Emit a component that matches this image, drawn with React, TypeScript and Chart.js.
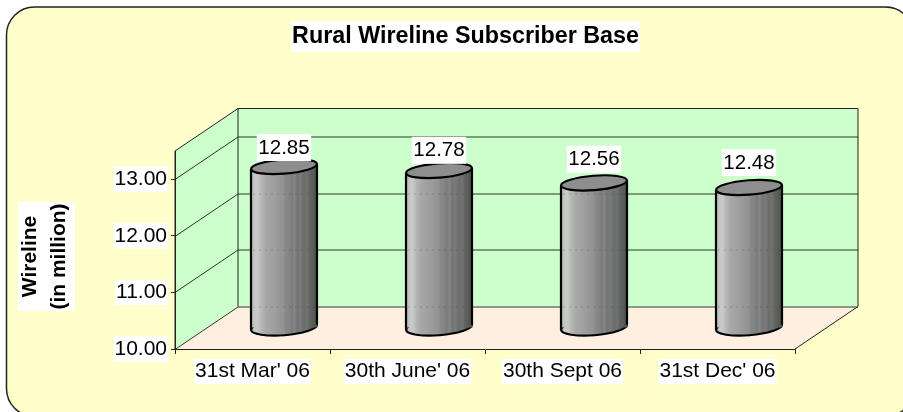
import React, { useEffect, useRef } from "react";
import { Chart, registerables } from "chart.js";

Chart.register(...registerables);

const categories = ["31st Mar' 06", "30th June' 06", "30th Sept 06", "31st Dec' 06"];
const wireline = [12.85, 12.78, 12.56, 12.48];
const yTicks = [10, 11, 12, 13];
const chartTitle = "Rural Wireline Subscriber Base";
const yTitle = ["Wireline", "(in million)"];

const FONT = "'Liberation Sans', Arial, sans-serif";
const TICK_SIZE = 21;
const VALUE_SIZE = 20.5;
const DX = 63;
const DY = -42.5;
const BAR_W = 66;
const EL_RY_TOP = 7.2;
const EL_RY_BOTTOM = 8;
const EL_ROT = (-4.5 * Math.PI) / 180;

const cylinderStops: [number, string][] = [
  [0, "#b0b4b0"], [0.05, "#c4c8c4"], [0.1, "#c8cac8"], [0.16, "#b4b6b4"], [0.22, "#a8a8a8"],
  [0.3, "#a2a2a2"], [0.38, "#9c9c9c"], [0.44, "#969696"], [0.5, "#929292"], [0.52, "#888888"],
  [0.58, "#828682"], [0.62, "#7a7a7a"], [0.66, "#868686"], [0.7, "#747474"], [0.75, "#7a7a7a"],
  [0.8, "#6a6e6a"], [0.85, "#727272"], [0.9, "#5e625e"], [0.95, "#585c58"], [1, "#484c48"],
];

function cylinderGradient(c: CanvasRenderingContext2D, x: number) {
  const g = c.createLinearGradient(x - BAR_W / 2, 0, x + BAR_W / 2, 0);
  cylinderStops.forEach(([o, col]) => g.addColorStop(o, col));
  return g;
}

const scene = {
  id: "scene",
  beforeDraw(chart: any) {
    const c: CanvasRenderingContext2D = chart.ctx;
    const { left, right, top, bottom } = chart.chartArea;
    c.save();
    c.beginPath();
    c.roundRect(6.5, 7, 907, 409.5, 28);
    c.fillStyle = "#FFFFCC";
    c.fill();
    c.lineWidth = 1.5;
    c.strokeStyle = "#222";
    c.stroke();

    // back wall
    c.fillStyle = "#CCFFCC";
    c.fillRect(left + DX, top + DY, right - left, bottom - top);
    // left wall
    c.beginPath();
    c.moveTo(left, top);
    c.lineTo(left + DX, top + DY);
    c.lineTo(left + DX, bottom + DY);
    c.lineTo(left, bottom);
    c.closePath();
    c.fill();
    // floor
    c.fillStyle = "#FFEFE0";
    c.beginPath();
    c.moveTo(left, bottom);
    c.lineTo(left + DX, bottom + DY);
    c.lineTo(right + DX, bottom + DY);
    c.lineTo(right, bottom);
    c.closePath();
    c.fill();

    c.strokeStyle = "#2a3a2a";
    c.lineWidth = 1;
    const y = chart.scales.y;
    for (const v of yTicks) {
      const py = Math.round(y.getPixelForValue(v)) + 0.5;
      c.beginPath();
      c.moveTo(left, py);
      c.lineTo(left + DX, py + DY);
      c.lineTo(right + DX, py + DY);
      c.stroke();
    }
    // wall outlines
    c.strokeStyle = "#222";
    c.beginPath();
    c.moveTo(left, bottom);
    c.lineTo(left, top);
    c.lineTo(left + DX, top + DY);
    c.lineTo(right + DX, top + DY);
    c.lineTo(right + DX, bottom + DY);
    c.lineTo(right, bottom);
    c.moveTo(left + DX, top + DY);
    c.lineTo(left + DX, bottom + DY);
    c.stroke();
    c.restore();
  },
  beforeDatasetsDraw(chart: any) {
    const c: CanvasRenderingContext2D = chart.ctx;
    c.save();
    c.translate(DX / 2, DY / 2);
    const meta = chart.getDatasetMeta(0);
    for (const bar of meta.data) {
      c.beginPath();
      c.ellipse(bar.x, bar.base, BAR_W / 2, EL_RY_BOTTOM, EL_ROT, 0, Math.PI * 2);
      c.fillStyle = cylinderGradient(c, bar.x);
      c.fill();
      c.lineWidth = 2.2;
      c.strokeStyle = "#000";
      c.stroke();
    }
  },
  afterDatasetsDraw(chart: any) {
    const c: CanvasRenderingContext2D = chart.ctx;
    const meta = chart.getDatasetMeta(0);
    const y = chart.scales.y;
    const dy = (BAR_W / 2) * Math.sin(EL_ROT);
    for (const bar of meta.data) {
      const l = bar.x - BAR_W / 2;
      const r = bar.x + BAR_W / 2;
      // the wall's grid lines show faintly through the cylinder
      c.save();
      c.setLineDash([2, 4]);
      c.lineWidth = 1;
      c.strokeStyle = "rgba(50,60,50,0.25)";
      for (const v of yTicks) {
        const py = Math.round(y.getPixelForValue(v)) + 0.5 + DY / 2;
        if (py > bar.y && py < bar.base) {
          c.beginPath();
          c.moveTo(l + 2, py);
          c.lineTo(r - 2, py);
          c.stroke();
        }
      }
      c.restore();
      c.lineWidth = 2.2;
      c.strokeStyle = "#000";
      c.beginPath();
      c.moveTo(l, bar.y - dy);
      c.lineTo(l, bar.base - dy);
      c.moveTo(r, bar.y + dy);
      c.lineTo(r, bar.base + dy);
      c.stroke();
      c.beginPath();
      c.ellipse(bar.x, bar.y, BAR_W / 2, EL_RY_TOP, EL_ROT, 0, Math.PI * 2);
      c.fillStyle = "#8E8E8E";
      c.fill();
      c.stroke();
    }
    c.restore();

    // value labels
    c.save();
    c.font = `${VALUE_SIZE}px ${FONT}`;
    c.textAlign = "center";
    c.textBaseline = "middle";
    meta.data.forEach((bar: any, i: number) => {
      const t = wireline[i].toFixed(2);
      const x = bar.x + DX / 2;
      const ymid = 147 + (wireline[0] - wireline[i]) * 40.5;
      const w = c.measureText(t).width + 3;
      c.fillStyle = "#fff";
      c.fillRect(x - w / 2, ymid - 13, w, 27);
      c.fillStyle = "#000";
      c.fillText(t, x, ymid + 1);
    });
    c.restore();
  },
};

export default function App() {
  const ref = useRef<HTMLCanvasElement | null>(null);
  useEffect(() => {
    document.body.style.margin = "0";
    const chart = new Chart(ref.current!, {
      type: "bar",
      data: {
        labels: categories,
        datasets: [
          {
            data: wireline,
            base: 10,
            clip: false,
            barThickness: BAR_W,
            borderWidth: 0,
            backgroundColor: (ctx: any) => {
              const ch = ctx.chart;
              if (!ch.chartArea || ctx.dataIndex === undefined) return "#999";
              return cylinderGradient(ch.ctx, ch.scales.x.getPixelForValue(ctx.dataIndex));
            },
          },
        ],
      },
      options: {
        animation: false,
        responsive: false,
        layout: { padding: { left: 0, right: 108, top: 151, bottom: 0 } },
        plugins: {
          legend: { display: false },
          tooltip: { enabled: false },
          title: { display: false },
        },
        scales: {
          x: {
            afterFit(s: any) {
              s.height = 63;
            },
            grid: { drawOnChartArea: false, tickLength: 5, color: "#222", offset: true },
            border: { color: "#222" },
            ticks: {
              color: "#000",
              font: { family: FONT, size: TICK_SIZE },
              maxRotation: 0,
              autoSkip: false,
              padding: 5,
              showLabelBackdrop: true,
              backdropColor: "#fff",
              backdropPadding: { x: 1, y: 0 },
            } as any,
          },
          y: {
            min: 10,
            max: 13.5,
            afterFit(s: any) {
              s.width = 175;
            },
            afterBuildTicks(s: any) {
              s.ticks = yTicks.map((v) => ({ value: v }));
            },
            grid: { drawOnChartArea: false, tickLength: 4, color: "#222" },
            border: { color: "#222" },
            title: { display: false },
            ticks: {
              color: "#000",
              font: { family: FONT, size: TICK_SIZE },
              padding: 4,
              callback: (v: any) => Number(v).toFixed(2),
              showLabelBackdrop: true,
              backdropColor: "#fff",
              backdropPadding: { x: 1, y: 0 },
            } as any,
          },
        },
      },
      plugins: [
        scene as any,
        {
          id: "texts",
          afterDraw(chart: any) {
            const c: CanvasRenderingContext2D = chart.ctx;
            c.save();
            c.fillStyle = "#fff";
            c.fillRect(291, 21, 349, 31);
            c.fillRect(18, 202, 57, 109);
            c.fillStyle = "#000";
            c.textAlign = "center";
            c.textBaseline = "middle";
            c.font = `bold 23.3px ${FONT}`;
            c.fillText(chartTitle, 465.5, 37);
            c.translate(45, 256.5);
            c.rotate(-Math.PI / 2);
            c.font = `bold 21px ${FONT}`;
            c.fillText(yTitle[0], 0, -15);
            c.fillText(yTitle[1], 0, 14);
            c.restore();
          },
        },
      ],
    } as any);
    return () => chart.destroy();
  }, []);
  return <canvas ref={ref} width={903} height={412} style={{ display: "block" }} />;
}
